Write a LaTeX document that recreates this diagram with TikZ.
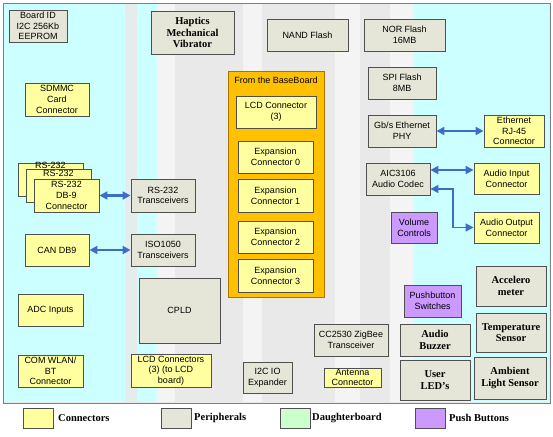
\documentclass[tikz,border=0pt]{standalone}
\usepackage{fontspec}
\setmainfont{Liberation Serif}
\setsansfont{Liberation Sans}
\usetikzlibrary{arrows.meta}
\definecolor{yel}{HTML}{FFFFA0}
\definecolor{peri}{HTML}{E6E6D8}
\definecolor{pur}{HTML}{CC99FF}
\definecolor{grn}{HTML}{CCFFCC}
\definecolor{cyanbg}{HTML}{CCFFFF}
\definecolor{bordc}{HTML}{505050}
\definecolor{orng}{HTML}{FFC000}
\definecolor{orngb}{HTML}{A87400}
\definecolor{arrb}{HTML}{3D6CC9}
\definecolor{midbg}{HTML}{E9E9E9}
\definecolor{midlt}{HTML}{F4F4F4}
\definecolor{stripe}{HTML}{E4ECEC}
\tikzset{
  box/.style={draw=bordc, line width=0.9pt, inner sep=0pt, align=center,
    font=\sffamily\fontsize{9}{10.7}\selectfont},
  yelbox/.style={box, fill=yel},
  peribox/.style={box, fill=peri},
  purbox/.style={box, fill=pur},
  bold/.style={font=\rmfamily\bfseries\fontsize{10.5}{11.5}\selectfont},
  txt/.style={inner sep=0.5pt, align=center, font=\sffamily\fontsize{9}{10.7}\selectfont},
  legtext/.style={inner sep=0pt, anchor=west, font=\rmfamily\bfseries\fontsize{10.5}{11.5}\selectfont},
  legbox/.style={draw=bordc, line width=0.9pt, minimum width=30pt, minimum height=20pt, inner sep=0pt},
  biarrow/.style={draw=arrb, line width=2.2pt,
    {Triangle[length=8pt,width=8pt]}-{Triangle[length=8pt,width=8pt]}},
  biarrowthin/.style={draw=arrb, line width=1.6pt,
    {Triangle[length=8pt,width=8pt]}-{Triangle[length=8pt,width=8pt]}}
}
\begin{document}
\begin{tikzpicture}[x=1pt,y=-1pt]
\useasboundingbox (0,0) rectangle (553,436);
\fill[white] (0,0) rectangle (553,436);
% background
\fill[midbg] (3,3) rectangle (550,403);
\fill[midlt] (157,4) rectangle (175,402);
\fill[midlt] (243,4) rectangle (262,402);
\fill[midlt] (335,4) rectangle (360,402);
\fill[midlt] (390,4) rectangle (413,402);
\fill[cyanbg] (4,4) rectangle (157,402);
\fill[stripe] (125,4) rectangle (137,402);
\fill[cyanbg] (413,4) rectangle (549,402);
\draw[draw=gray, line width=0.9pt] (3,3) rectangle (550,403);

% left column
\node[peribox, minimum width=58pt, minimum height=32pt] (boardid) at (38,26) {Board ID\\I2C 256Kb\\EEPROM};
\node[yelbox, minimum width=64pt, minimum height=33pt] (sdmmc) at (57,99.5) {SDMMC\\Card\\Connector};

\node[yelbox, minimum width=65pt, minimum height=33pt] (rsback) at (50.5,179.5) {};
\node[txt, anchor=north] (rsbacklbl) at ([yshift=1pt]rsback.north) {RS-232};
\node[yelbox, minimum width=65pt, minimum height=33pt] (rsmid) at (58.5,185.5) {};
\node[txt, anchor=north] (rsmidlbl) at ([yshift=-0.5pt]rsmid.north) {RS-232};
\node[yelbox, minimum width=65pt, minimum height=33pt] (rsfront) at (66.5,195.5) {RS-232\\DB-9\\Connector};
\node[peribox, minimum width=64pt, minimum height=33pt] (rstx) at (163,195.5) {RS-232\\Transceivers};

\node[yelbox, minimum width=64pt, minimum height=32pt] (can) at (57,250) {CAN DB9};
\node[peribox, minimum width=64pt, minimum height=32pt] (iso) at (163,250) {ISO1050\\Transceivers};

\node[yelbox, minimum width=65pt, minimum height=32pt] (adc) at (50.5,310) {ADC Inputs};
\node[yelbox, minimum width=65pt, minimum height=32pt] (com) at (50.5,371) {COM WLAN/\\BT\\Connector};
\node[peribox, minimum width=81pt, minimum height=65pt] (cpld) at (179.5,310.5) {CPLD};
\node[yelbox, minimum width=80pt, minimum height=33pt] (lcdc) at (171,370.5) {LCD Connectors\\(3) (to LCD\\board)};

% top middle
\node[peribox, bold, minimum width=83pt, minimum height=43pt] (haptics) at (192.5,32.5) {Haptics\\Mechanical\\Vibrator};
\node[peribox, minimum width=81pt, minimum height=32pt] (nand) at (307.5,35) {NAND Flash};
\node[peribox, minimum width=81pt, minimum height=32pt] (nor) at (404.5,35) {NOR Flash\\16MB};
\node[peribox, minimum width=68pt, minimum height=32pt] (spi) at (402,83) {SPI Flash\\8MB};

% baseboard
\node[draw=orngb, fill=orng, line width=1pt, minimum width=96pt, minimum height=226pt, inner sep=0pt] (base) at (276,184) {};
\node[txt] (baselbl) at (276,80) {From the BaseBoard};
\node[yelbox, minimum width=80pt, minimum height=32pt] (lcd3) at (276,112) {LCD Connector\\(3)};
\node[yelbox, minimum width=75pt, minimum height=32pt] (exp0) at (275.5,157) {Expansion\\Connector 0};
\node[yelbox, minimum width=75pt, minimum height=33pt] (exp1) at (275.5,195.5) {Expansion\\Connector 1};
\node[yelbox, minimum width=75pt, minimum height=32pt] (exp2) at (275.5,237) {Expansion\\Connector 2};
\node[yelbox, minimum width=75pt, minimum height=33pt] (exp3) at (275.5,275.5) {Expansion\\Connector 3};

% right side
\node[peribox, minimum width=68pt, minimum height=32pt] (phy) at (402,131) {Gb/s Ethernet\\PHY};
\node[yelbox, minimum width=60pt, minimum height=32pt] (rj45) at (514,131) {Ethernet\\RJ-45\\Connector};
\node[peribox, minimum width=64pt, minimum height=32pt] (codec) at (398,179) {AIC3106\\Audio Codec};
\node[yelbox, minimum width=65pt, minimum height=31pt] (ain) at (506.5,178.5) {Audio Input\\Connector};
\node[yelbox, minimum width=65pt, minimum height=31pt] (aout) at (506.5,227.5) {Audio Output\\Connector};
\node[purbox, minimum width=46pt, minimum height=31pt] (vol) at (414,227.5) {Volume\\Controls};

\node[peribox, bold, minimum width=70pt, minimum height=40pt] (accel) at (511,286) {Accelero\\meter};
\node[peribox, bold, minimum width=70pt, minimum height=39pt] (temp) at (511,332.5) {Temperature\\Sensor};
\node[peribox, bold, minimum width=72pt, minimum height=42pt] (ambient) at (510,378) {Ambient\\Light Sensor};
\node[purbox, minimum width=57pt, minimum height=32pt] (push) at (432.5,301) {Pushbutton\\Switches};
\node[peribox, bold, minimum width=70pt, minimum height=32pt] (buzzer) at (435,340) {Audio\\Buzzer};
\node[peribox, bold, minimum width=70pt, minimum height=40pt] (leds) at (435,380) {User\\LED's};
\node[peribox, minimum width=74pt, minimum height=32pt] (zigbee) at (351,340) {CC2530 ZigBee\\Transceiver};
\node[yelbox, minimum width=57pt, minimum height=19pt] (antenna) at (352.5,377.5) {Antenna\\Connector};
\node[peribox, minimum width=49pt, minimum height=31pt] (i2cio) at (267.5,377.5) {I2C IO\\Expander};

% arrows
\draw[biarrow] (rsfront.east) -- (rstx.west);
\draw[biarrow] (can.east) -- (iso.west);
\draw[biarrow] (phy.east) -- (rj45.west);
\draw[biarrow] ([yshift=9pt]codec.east) -- ([yshift=9pt]codec.east -| ain.west);
\coordinate (bend) at (453,228);
\draw[biarrowthin] ([yshift=-10pt]codec.east) -| (bend |- aout.west) -- (aout.west);

% legend
\node[legbox, fill=yel] (lg1) at (38,418) {};
\node[legtext] (lt1) at (58,418) {Connectors};
\node[legbox, fill=peri] (lg2) at (176,418) {};
\node[legtext] (lt2) at (194,418) {Peripherals};
\node[legbox, fill=grn] (lg3) at (295,418) {};
\node[legtext] (lt3) at (312,418) {Daughterboard};
\node[legbox, fill=pur] (lg4) at (430,418) {};
\node[legtext] (lt4) at (449,418) {Push Buttons};
\end{tikzpicture}
\end{document}
